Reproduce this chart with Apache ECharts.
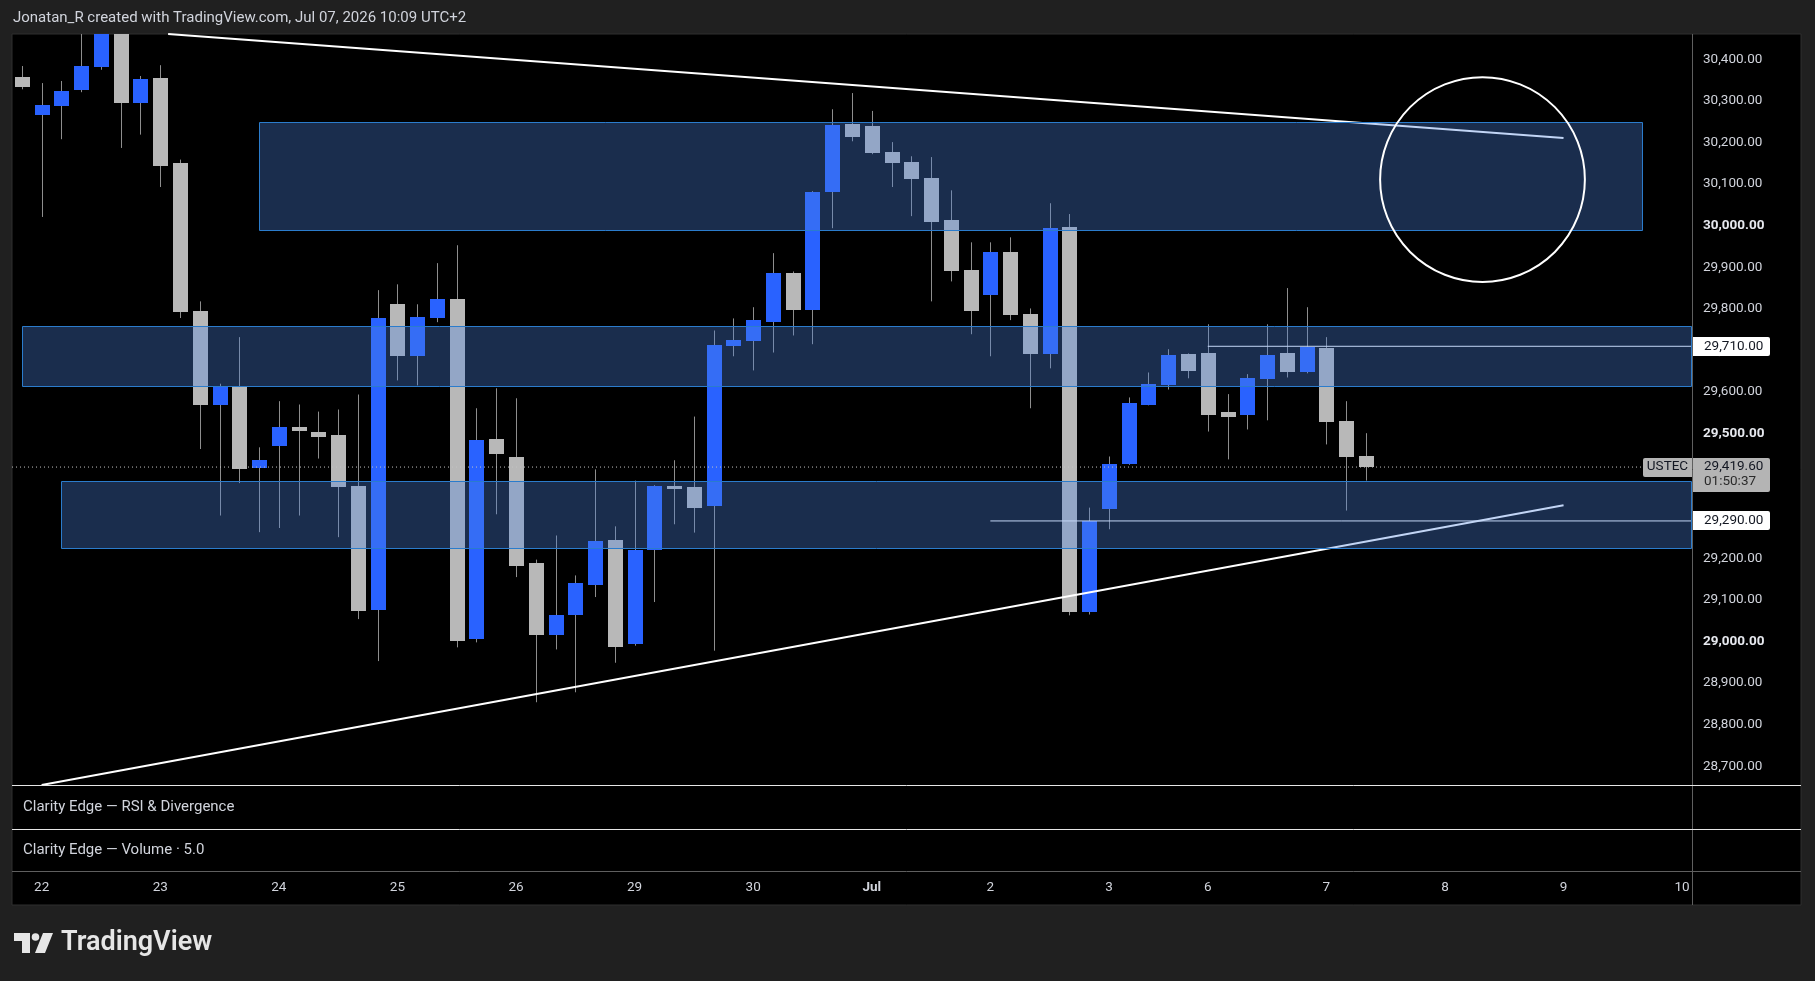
<!DOCTYPE html>
<html><head><meta charset="utf-8">
<script src="https://cdn.jsdelivr.net/npm/echarts@6/dist/echarts.min.js"></script>
<style>html,body{margin:0;padding:0;background:#202020;}#c{width:1815px;height:981px;}</style>
</head><body><div id="c"></div>
<script>
// ---------- data ----------
const slotCount = 85;
const dayLabelSlots = [1, 7, 13, 19, 25, 31, 37, 43, 49, 55, 60, 66, 72, 78, 84];
const dayLabelTexts = ['22', '23', '24', '25', '26', '29', '30', 'Jul', '2', '3', '6', '7', '8', '9', '10'];

const opens = [30357,30266,30288,30326,30381,30490,30296,30355,30150,29794,
  29570,29611,29417,29470,29515,29505,29496,29373,29075,29811,
  29687,29778,29823,29005,29486,29443,29188,29015,29063,29135,
  29243,28993,29219,29373,29371,29327,29710,29722,29768,29886,
  29797,30081,30244,30239,30177,30153,30114,30013,29893,29833,
  29936,29787,29691,29997,29070,29318,29428,29570,29616,29691,
  29693,29551,29544,29631,29693,29647,29706,29530,29445];
const highs = [30384,30343,30348,30470,30520,30530,30360,30386,30159,29818,
  29620,29732,29467,29578,29570,29553,29558,29594,29845,29859,
  29811,29910,29953,29561,29609,29585,29197,29255,29159,29414,
  29277,29387,29376,29436,29541,29748,29777,29804,29934,29890,
  30083,30280,30319,30276,30201,30167,30165,30085,29960,29960,
  29972,29801,30054,30028,29322,29445,29587,29647,29703,29693,
  29763,29595,29643,29763,29850,29804,29732,29578,29501];
const lows = [30328,30021,30208,30321,30375,30187,30219,30093,29778,29463,
  29303,29381,29263,29273,29303,29440,29251,29054,28953,29628,
  29616,29768,28986,28998,29306,29155,28854,28981,28878,29107,
  28949,28990,29095,29282,29262,28978,29686,29652,29695,29736,
  29715,29994,30203,30172,30093,30023,29818,29866,29739,29686,
  29773,29561,29657,29063,29065,29270,29425,29568,29606,29633,
  29505,29438,29510,29532,29635,29645,29474,29315,29387];
const closes = [30334,30290,30324,30384,30490,30296,30353,30144,29793,29568,
  29615,29414,29436,29515,29506,29493,29371,29073,29777,29687,
  29780,29823,29001,29484,29451,29181,29015,29065,29140,29241,
  28988,29221,29373,29367,29322,29712,29724,29773,29886,29797,
  30081,30242,30213,30174,30150,30112,30008,29890,29794,29936,
  29785,29691,29994,29070,29289,29428,29573,29619,29688,29650,
  29544,29541,29633,29688,29647,29708,29527,29443,29419.6];

// drawing annotations (bar index, price)
const zones = [[12, 82, 30250, 29990], [0, 84.5, 29760, 29615], [2, 84.5, 29385, 29225]];
const upperTrend = [[7.4, 30461], [78, 30211]];
const lowerTrend = [[1, 28655], [78, 29328]];
const levels = [[60, 29710], [49, 29290]];
const circleMark = [73.9, 30111, 79.08];   // centre index, centre price, rim index
const symbolName = 'USTEC';
const countdown = '01:50:37';
const headerText = 'Jonatan_R created with TradingView.com, Jul 07, 2026 10:09 UTC+2';
const paneTitles = ['Clarity Edge \u2014 RSI & Divergence', 'Clarity Edge \u2014 Volume \u00b7 5.0'];

// ---------- chart ----------
const FONT = 'Roboto, "Liberation Sans", sans-serif';
const TXT = '#d1d4dc';
const fmt = v => v.toLocaleString('en-US', {minimumFractionDigits: 2, maximumFractionDigits: 2});
const labels = Array(slotCount).fill('');
dayLabelSlots.forEach((s, k) => { labels[s] = dayLabelTexts[k]; });
const lastClose = closes[closes.length - 1];
const X_END = 84.5;

const chart = echarts.init(document.getElementById('c'), null, {renderer: 'canvas'});

const option = {
  animation: false,
  backgroundColor: '#202020',
  grid: {left: 12, top: 34, width: 1680, height: 751, containLabel: false},
  xAxis: [
    {type: 'category', gridIndex: 0, data: labels, boundaryGap: true,
     axisLine: {show: false}, axisTick: {show: false}, splitLine: {show: false},
     axisLabel: {interval: 0, margin: 96, color: TXT, fontSize: 13.5, fontFamily: FONT,
       formatter: v => v === 'Jul' ? '{b|Jul}' : v,
       rich: {b: {fontWeight: 'bold', fontSize: 13.5, color: TXT, fontFamily: FONT}}}},
    {type: 'value', gridIndex: 0, min: -0.5, max: X_END, show: false}
  ],
  yAxis: [{
    type: 'value', position: 'right', min: 28655, max: 30461, splitNumber: 18,
    minInterval: 100, maxInterval: 100,
    axisLine: {show: false}, axisTick: {show: false}, splitLine: {show: false},
    axisLabel: {margin: 11, color: TXT, fontSize: 13.5, fontFamily: FONT,
      formatter: v => {
        if (Math.abs(v / 100 - Math.round(v / 100)) > 1e-6) return '';
        return Math.abs(v / 500 - Math.round(v / 500)) < 1e-6 ? '{b|' + fmt(v) + '}' : fmt(v);
      },
      rich: {b: {fontWeight: 'bold', fontSize: 13.5, color: '#e6e8ee', fontFamily: FONT}}}
  }],
  series: [
    {
      type: 'custom', xAxisIndex: 0, yAxisIndex: 0, z: 2, clip: true, silent: true,
      data: opens.map((o, i) => [i, o, closes[i], lows[i], highs[i]]),
      encode: {x: 0, y: [1, 2, 3, 4]},
      renderItem(params, api) {
        const i = api.value(0), o = api.value(1), c = api.value(2), l = api.value(3), h = api.value(4);
        const pO = api.coord([i, o]), pC = api.coord([i, c]), pL = api.coord([i, l]), pH = api.coord([i, h]);
        const xr = Math.round(pO[0]);
        const top = Math.round(Math.min(pO[1], pC[1])), bot = Math.round(Math.max(pO[1], pC[1]));
        const up = c >= o;
        return {type: 'group', children: [
          {type: 'line', shape: {x1: xr + 0.5, y1: pH[1], x2: xr + 0.5, y2: pL[1]},
           style: {stroke: '#8e8e8e', lineWidth: 1}},
          {type: 'rect', shape: {x: xr - 7, y: top, width: 15, height: Math.max(1, bot - top)},
           style: {fill: up ? '#2962ff' : '#b8b8b8'}}
        ]};
      }
    },
    {type: 'line', xAxisIndex: 1, yAxisIndex: 0, data: upperTrend, symbol: 'none', z: 3, silent: true,
     lineStyle: {color: '#ffffff', width: 2}},
    {type: 'line', xAxisIndex: 1, yAxisIndex: 0, data: lowerTrend, symbol: 'none', z: 3, silent: true,
     lineStyle: {color: '#ffffff', width: 2}},
    ...levels.map(lv => ({type: 'line', xAxisIndex: 1, yAxisIndex: 0, data: [[lv[0], lv[1]], [X_END, lv[1]]],
      symbol: 'none', z: 3, silent: true, lineStyle: {color: '#ffffff', width: 1}})),
    {type: 'line', xAxisIndex: 1, yAxisIndex: 0, data: [[-0.5, lastClose], [X_END, lastClose]],
     symbol: 'none', z: 3, silent: true, lineStyle: {color: '#c4c4c4', width: 1, type: [1, 3]}},
    {
      type: 'custom', xAxisIndex: 1, yAxisIndex: 0, z: 4, silent: true,
      data: zones, encode: {x: [0, 1], y: [2, 3]},
      renderItem(params, api) {
        const a = api.coord([api.value(0), api.value(2)]);
        const b = api.coord([api.value(1), api.value(3)]);
        const x1 = Math.round(a[0]) + 0.5, y1 = Math.round(a[1]) + 0.5;
        const x2 = Math.round(b[0]) - 0.5, y2 = Math.round(b[1]) + 0.5;
        return {type: 'rect', shape: {x: x1, y: y1, width: x2 - x1, height: y2 - y1},
          style: {fill: 'rgba(76,132,226,0.34)', stroke: '#2b7ccc', lineWidth: 1}};
      }
    },
    {
      type: 'custom', xAxisIndex: 1, yAxisIndex: 0, z: 5, silent: true,
      data: [circleMark], encode: {x: [0, 2], y: 1},
      renderItem(params, api) {
        const c = api.coord([api.value(0), api.value(1)]);
        const e = api.coord([api.value(2), api.value(1)]);
        return {type: 'circle', shape: {cx: c[0], cy: c[1], r: Math.abs(e[0] - c[0])},
          style: {fill: 'transparent', stroke: '#ffffff', lineWidth: 2}};
      }
    }
  ]
};
chart.setOption(option);

// ---------- chrome + price-axis tags (positions from the chart's own scale) ----------
const yOf = p => chart.convertToPixel({yAxisIndex: 0}, p);
function txt(x, y, text, font, fill, align) {
  return {type: 'text', z: 120, silent: true,
    style: {x, y, text, font, fill, align: align || 'left', textAlign: align || 'left',
            verticalAlign: 'middle', textVerticalAlign: 'middle'}};
}
const g = [];
// panel
g.push({type: 'rect', z: -100, silent: true, shape: {x: 12, y: 34, width: 1789, height: 871},
  style: {fill: '#000000', stroke: '#2f2f2f', lineWidth: 1}});
// separators
g.push({type: 'line', z: 90, silent: true, shape: {x1: 1692.5, y1: 34, x2: 1692.5, y2: 905}, style: {stroke: '#5f5f5f', lineWidth: 1}});
g.push({type: 'line', z: 90, silent: true, shape: {x1: 12, y1: 785.5, x2: 1801, y2: 785.5}, style: {stroke: '#e6e6e6', lineWidth: 1}});
g.push({type: 'line', z: 90, silent: true, shape: {x1: 12, y1: 829.5, x2: 1801, y2: 829.5}, style: {stroke: '#e6e6e6', lineWidth: 1}});
g.push({type: 'line', z: 90, silent: true, shape: {x1: 12, y1: 871.5, x2: 1801, y2: 871.5}, style: {stroke: '#5f5f5f', lineWidth: 1}});
// texts
g.push(txt(13, 18.5, headerText, '15px ' + FONT, TXT));
g.push(txt(23, 807, paneTitles[0], '15px ' + FONT, TXT));
g.push(txt(23, 850, paneTitles[1], '15px ' + FONT, TXT));
// level tags
levels.forEach(lv => {
  const y = yOf(lv[1]);
  g.push({type: 'rect', z: 110, silent: true, shape: {x: 1693, y: Math.round(y - 9.5), width: 77, height: 19, r: [0, 2, 2, 0]},
    style: {fill: '#ffffff'}});
  g.push(txt(1704, y, fmt(lv[1]), '13.5px ' + FONT, '#131722'));
});
// last price tag
const yl = yOf(lastClose);
g.push({type: 'rect', z: 110, silent: true, shape: {x: 1693, y: Math.round(yl - 9), width: 77, height: 34, r: [0, 2, 2, 0]},
  style: {fill: '#b4b4b4'}});
g.push(txt(1704, yl, fmt(lastClose), '13.5px ' + FONT, '#131722'));
g.push(txt(1704, yl + 15, countdown, '13.5px ' + FONT, '#2b2b2b'));
g.push({type: 'rect', z: 110, silent: true, shape: {x: 1643, y: Math.round(yl - 9.5), width: 49, height: 19, r: [2, 0, 0, 2]},
  style: {fill: '#b4b4b4'}});
g.push(txt(1667.5, yl, symbolName, '13.5px ' + FONT, '#131722', 'center'));
// TradingView logo
g.push({type: 'polygon', z: 120, silent: true, shape: {points: [[14, 933], [30, 933], [30, 953], [22, 953], [22, 941], [14, 941]]}, style: {fill: '#e6e6e6'}});
g.push({type: 'circle', z: 120, silent: true, shape: {cx: 35.5, cy: 937, r: 3.8}, style: {fill: '#e6e6e6'}});
g.push({type: 'polygon', z: 120, silent: true, shape: {points: [[43, 933], [53, 933], [45, 953], [35, 953]]}, style: {fill: '#e6e6e6'}});
g.push(txt(61, 943, 'TradingView', '600 27px ' + FONT, '#e6e6e6'));

chart.setOption({graphic: {elements: g}});
</script>
</body></html>
